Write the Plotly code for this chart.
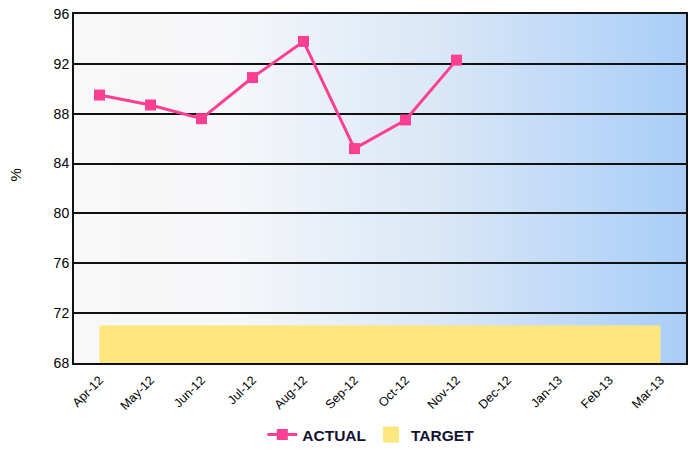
import base64
import plotly.graph_objects as go

months = ["Apr-12", "May-12", "Jun-12", "Jul-12", "Aug-12", "Sep-12",
          "Oct-12", "Nov-12", "Dec-12", "Jan-13", "Feb-13", "Mar-13"]
actual = [89.5, 88.7, 87.6, 90.9, 93.8, 85.2, 87.5, 92.3]
target = [71] * 12
y_ticks = [68, 72, 76, 80, 84, 88, 92, 96]

svg = ('<svg xmlns="http://www.w3.org/2000/svg" width="100" height="100" preserveAspectRatio="none">'
       '<defs><linearGradient id="g" x1="0" y1="0" x2="1" y2="0">'
       '<stop offset="0" stop-color="#f8f8f8"/>'
       '<stop offset="0.25" stop-color="#f6f7f9"/>'
       '<stop offset="0.6" stop-color="#d9e7f7"/>'
       '<stop offset="1" stop-color="#a9cdf8"/>'
       '</linearGradient></defs><rect width="100" height="100" fill="url(#g)"/></svg>')
bg = "data:image/svg+xml;base64," + base64.b64encode(svg.encode()).decode()

YELLOW = "#fde67c"
PINK = "#fc3f93"

fig = go.Figure()
fig.add_trace(go.Scatter(
    x=months, y=target, name="TARGET", mode="none",
    fill="tozeroy", fillcolor=YELLOW, showlegend=False,
))
fig.add_trace(go.Scatter(
    x=months[:len(actual)], y=actual, name="ACTUAL", mode="lines+markers",
    line=dict(color=PINK, width=3),
    marker=dict(symbol="square", size=11, color=PINK),
))
# legend entry for the target band
fig.add_trace(go.Scatter(
    x=[None], y=[None], name="TARGET", mode="markers",
    marker=dict(symbol="square", size=16, color=YELLOW),
))

fig.update_layout(
    width=696, height=453,
    margin=dict(l=74, r=10, t=14, b=90),
    paper_bgcolor="white", plot_bgcolor="rgba(0,0,0,0)",
    font=dict(family="Liberation Sans, Arial, sans-serif", color="black"),
    images=[dict(source=bg, xref="paper", yref="paper", x=0, y=1, sizex=1, sizey=1,
                 sizing="stretch", layer="below")],
    showlegend=True,
    legend=dict(orientation="h", x=0.485, xanchor="center",
                yref="container", y=0.04, yanchor="middle",
                font=dict(size=15.5, color="#111133", weight="bold",
                          family="Liberation Sans, Arial, sans-serif"),
                itemwidth=30),
    xaxis=dict(range=[-0.5, 11.5], tickangle=-45, tickfont=dict(size=12.5),
               ticklabelstandoff=3,
               showgrid=False, showline=True, linecolor="#111", linewidth=2,
               mirror=True, ticks="", fixedrange=True, automargin=False),
    yaxis=dict(range=[68, 96], tickvals=y_ticks, tickfont=dict(size=14),
               showgrid=True, gridcolor="#111", gridwidth=2,
               showline=True, linecolor="#111", linewidth=2, mirror=True,
               ticks="", zeroline=False, automargin=False),
    annotations=[dict(text="%", xref="paper", yref="paper", x=-0.095, y=0.54,
                      showarrow=False, textangle=-90, font=dict(size=15),
                      xanchor="center", yanchor="middle")],
)

fig.write_html("out.html", config={"displayModeBar": False},
               post_script="document.body.style.margin='0';document.body.style.overflow='hidden';")
